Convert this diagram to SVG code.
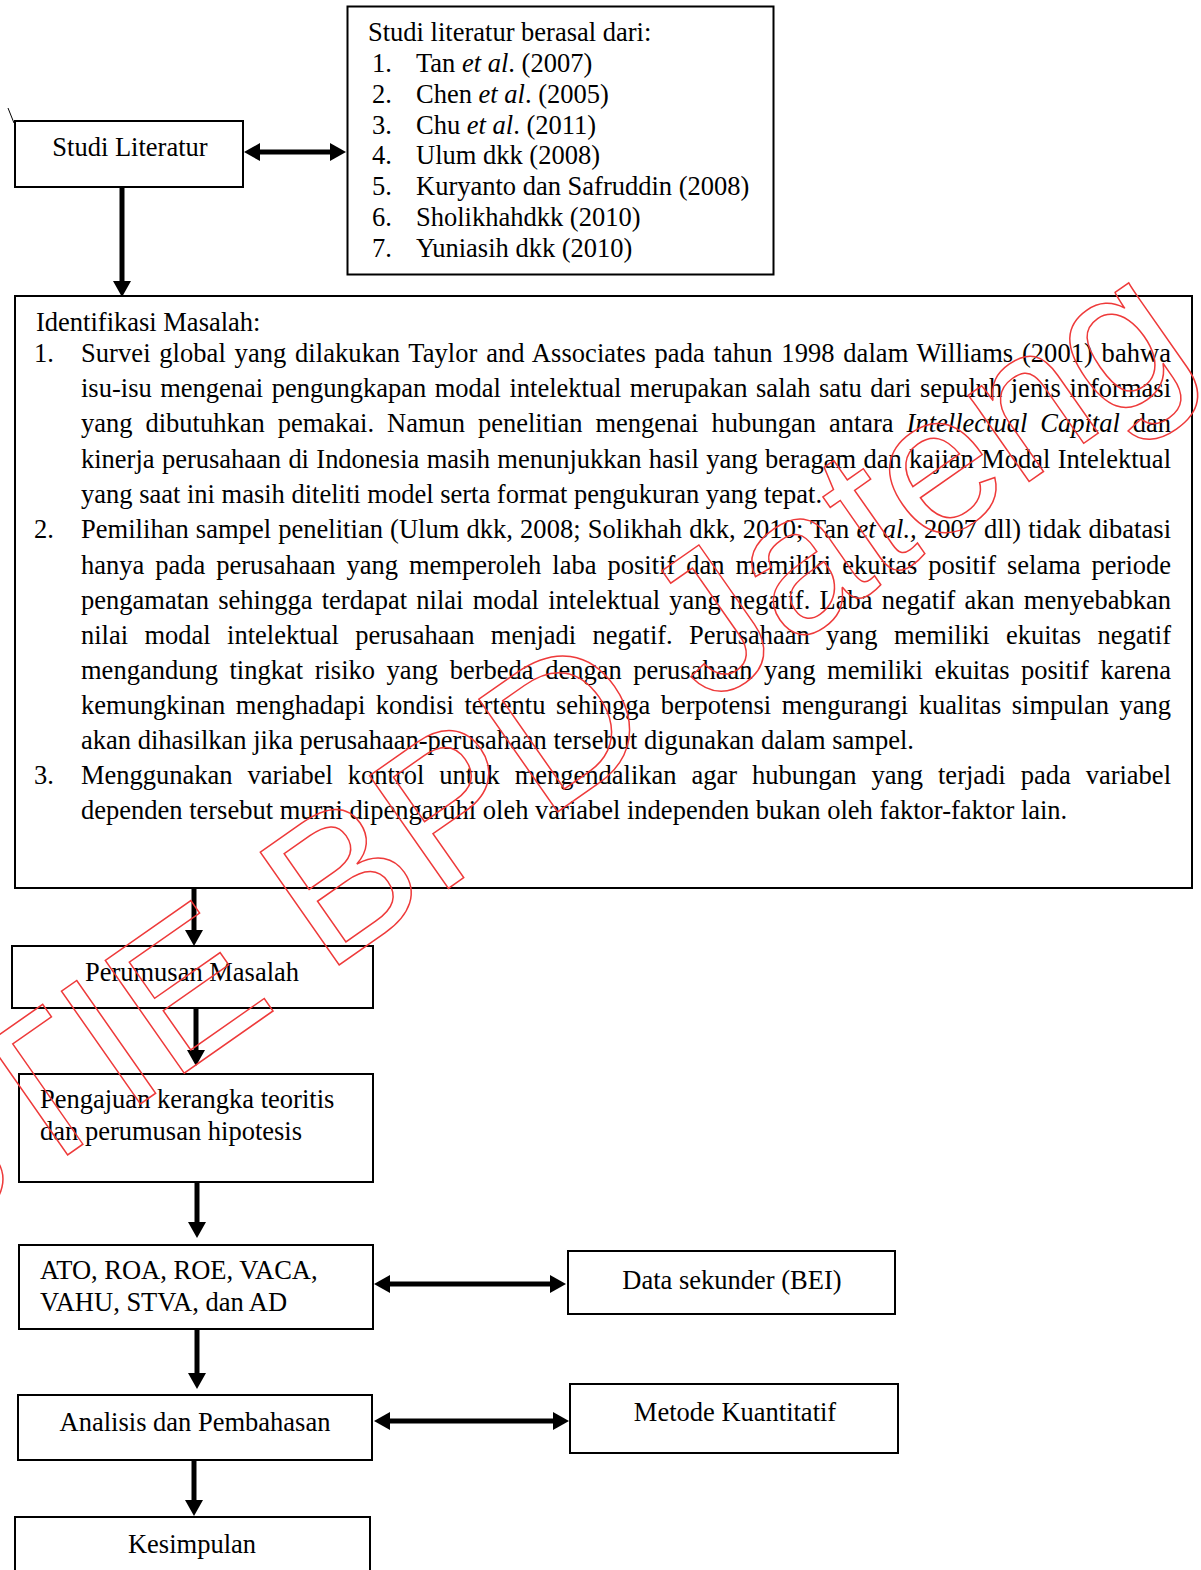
<svg xmlns="http://www.w3.org/2000/svg" width="1201" height="1570" viewBox="0 0 1201 1570">
<defs>
<style>
.t { font-family: "Liberation Serif", "Times New Roman", serif; font-size: 26.5px; fill: #000; }
.c { text-anchor: middle; }
.box { fill: #fff; stroke: #000; stroke-width: 2; }
.conn { stroke: #000; stroke-width: 5; fill: none; }
.wm { font-family: "Liberation Sans", Arial, sans-serif; font-size: 200px; fill: none; stroke: #ee3a3a; stroke-width: 1.5; }
</style>
<marker id="ah" markerUnits="userSpaceOnUse" markerWidth="16" markerHeight="18" viewBox="0 0 16 18" refX="0" refY="9" orient="auto-start-reverse">
<path d="M0,0 L16,9 L0,18 Z" fill="#000"/>
</marker>
</defs>
<rect width="1201" height="1570" fill="#fff"/>
<path d="M8,108 L14,123" stroke="#000" stroke-width="1" fill="none"/>

<g id="studi-literatur">
<rect class="box" x="15" y="121" width="228" height="66"/>
<text class="t c" x="130" y="156">Studi Literatur</text>
</g>

<g id="sumber-literatur">
<rect class="box" x="347.5" y="6.5" width="426" height="268"/>
<text class="t" x="368" y="41">Studi literatur berasal dari:</text>
<text class="t" x="372" y="72">1.</text><text class="t" x="416" y="72">Tan <tspan font-style="italic">et al</tspan>. (2007)</text>
<text class="t" x="372" y="103">2.</text><text class="t" x="416" y="103">Chen <tspan font-style="italic">et al</tspan>. (2005)</text>
<text class="t" x="372" y="133.5">3.</text><text class="t" x="416" y="133.5">Chu <tspan font-style="italic">et al</tspan>. (2011)</text>
<text class="t" x="372" y="164">4.</text><text class="t" x="416" y="164">Ulum dkk (2008)</text>
<text class="t" x="372" y="195">5.</text><text class="t" x="416" y="195">Kuryanto dan Safruddin (2008)</text>
<text class="t" x="372" y="226">6.</text><text class="t" x="416" y="226">Sholikhahdkk (2010)</text>
<text class="t" x="372" y="257">7.</text><text class="t" x="416" y="257">Yuniasih dkk (2010)</text>
</g>

<g id="identifikasi-masalah">
<rect class="box" x="15" y="296" width="1177" height="592"/>
<text class="t" x="36" y="331">Identifikasi Masalah:</text>
<text class="t" x="34" y="362">1.</text>
<text class="t" x="81" y="362" word-spacing="2.0" textLength="1090" lengthAdjust="spacing">Survei global yang dilakukan Taylor and Associates pada tahun 1998 dalam Williams (2001) bahwa</text>
<text class="t" x="81" y="397" word-spacing="1.87" textLength="1090" lengthAdjust="spacing">isu-isu mengenai pengungkapan modal intelektual merupakan salah satu dari sepuluh jenis informasi</text>
<text class="t" x="81" y="432" word-spacing="6.33" textLength="1090" lengthAdjust="spacing">yang dibutuhkan pemakai. Namun penelitian mengenai hubungan antara <tspan font-style="italic">Intellectual Capital</tspan> dan</text>
<text class="t" x="81" y="467.5" word-spacing="0.68" textLength="1090" lengthAdjust="spacing">kinerja perusahaan di Indonesia masih menunjukkan hasil yang beragam dan kajian Modal Intelektual</text>
<text class="t" x="81" y="503">yang saat ini masih diteliti model serta format pengukuran yang tepat.</text>
<text class="t" x="34" y="538">2.</text>
<text class="t" x="81" y="538" word-spacing="0.48" textLength="1090" lengthAdjust="spacing">Pemilihan sampel penelitian (Ulum dkk, 2008; Solikhah dkk, 2010; Tan <tspan font-style="italic">et al.,</tspan> 2007 dll) tidak dibatasi</text>
<text class="t" x="81" y="573.5" word-spacing="4.36" textLength="1090" lengthAdjust="spacing">hanya pada perusahaan yang memperoleh laba positif dan memiliki ekuitas positif selama periode</text>
<text class="t" x="81" y="608.5" word-spacing="2.62" textLength="1090" lengthAdjust="spacing">pengamatan sehingga terdapat nilai modal intelektual yang negatif. Laba negatif akan menyebabkan</text>
<text class="t" x="81" y="643.5" word-spacing="9.71" textLength="1090" lengthAdjust="spacing">nilai modal intelektual perusahaan menjadi negatif. Perusahaan yang memiliki ekuitas negatif</text>
<text class="t" x="81" y="679" word-spacing="4.95" textLength="1090" lengthAdjust="spacing">mengandung tingkat risiko yang berbeda dengan perusahaan yang memiliki ekuitas positif karena</text>
<text class="t" x="81" y="714" word-spacing="3.91" textLength="1090" lengthAdjust="spacing">kemungkinan menghadapi kondisi tertentu sehingga berpotensi mengurangi kualitas simpulan yang</text>
<text class="t" x="81" y="749">akan dihasilkan jika perusahaan-perusahaan tersebut digunakan dalam sampel.</text>
<text class="t" x="34" y="784">3.</text>
<text class="t" x="81" y="784" word-spacing="8.32" textLength="1090" lengthAdjust="spacing">Menggunakan variabel kontrol untuk mengendalikan agar hubungan yang terjadi pada variabel</text>
<text class="t" x="81" y="819">dependen tersebut murni dipengaruhi oleh variabel independen bukan oleh faktor-faktor lain.</text>
</g>

<g id="perumusan-masalah">
<rect class="box" x="12" y="946" width="361" height="62"/>
<text class="t c" x="192" y="981">Perumusan Masalah</text>
</g>

<g id="pengajuan-kerangka">
<rect class="box" x="19" y="1074" width="354" height="108"/>
<text class="t" x="40" y="1108">Pengajuan kerangka teoritis</text>
<text class="t" x="40" y="1140">dan perumusan hipotesis</text>
</g>

<g id="variabel">
<rect class="box" x="19" y="1245" width="354" height="84"/>
<text class="t" x="40" y="1279">ATO, ROA, ROE, VACA,</text>
<text class="t" x="40" y="1311">VAHU, STVA, dan AD</text>
</g>

<g id="data-sekunder">
<rect class="box" x="568" y="1251" width="327" height="63"/>
<text class="t c" x="732" y="1289">Data sekunder (BEI)</text>
</g>

<g id="analisis">
<rect class="box" x="18" y="1395" width="354" height="65"/>
<text class="t c" x="195" y="1431">Analisis dan Pembahasan</text>
</g>

<g id="metode">
<rect class="box" x="570" y="1384" width="328" height="69"/>
<text class="t c" x="735" y="1421">Metode Kuantitatif</text>
</g>

<g id="kesimpulan">
<rect class="box" x="15" y="1517" width="355" height="70"/>
<text class="t c" x="192" y="1553">Kesimpulan</text>
</g>

<g id="connectors">
<path class="conn" d="M260,152 H330" marker-start="url(#ah)" marker-end="url(#ah)"/>
<path class="conn" d="M390,1284 H550" marker-start="url(#ah)" marker-end="url(#ah)"/>
<path class="conn" d="M390,1421 H553" marker-start="url(#ah)" marker-end="url(#ah)"/>
<path class="conn" d="M122,188 V281" marker-end="url(#ah)"/>
<path class="conn" d="M194,889 V930" marker-end="url(#ah)"/>
<path class="conn" d="M196,1009 V1050" marker-end="url(#ah)"/>
<path class="conn" d="M197,1183 V1222" marker-end="url(#ah)"/>
<path class="conn" d="M197,1330 V1373" marker-end="url(#ah)"/>
<path class="conn" d="M194,1461 V1500" marker-end="url(#ah)"/>
</g>

<g id="watermark">
<text class="wm" transform="translate(-84,1261) rotate(-35)">STIE BPD Jateng</text>
</g>
</svg>
